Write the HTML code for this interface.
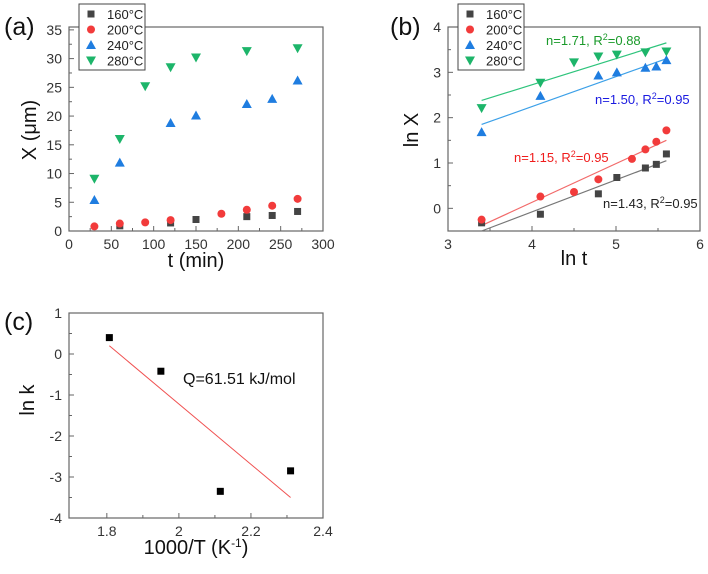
<!DOCTYPE html>
<html><head><meta charset="utf-8"><style>
body{margin:0;background:#fff;width:708px;height:569px;overflow:hidden}
svg{font-family:"Liberation Sans",Arial,sans-serif}
</style></head><body>
<svg id="fig" width="708" height="569" viewBox="0 0 708 569"></svg>
<script>
// ---- Panel (a) data ----
const aT160=[60,120,150,210,240,270], aX160=[0.9,1.4,2.0,2.5,2.7,3.4];
const aT200=[30,60,90,120,180,210,240,270], aX200=[0.8,1.3,1.5,1.9,3.0,3.7,4.4,5.6];
const aT240=[30,60,120,150,210,240,270], aX240=[5.4,11.9,18.8,20.1,22.1,23.0,26.2];
const aT280=[30,60,90,120,150,210,270], aX280=[9.1,16.0,25.2,28.5,30.2,31.3,31.8];
const aXTicks=[0,50,100,150,200,250,300], aYTicks=[0,5,10,15,20,25,30,35];
// ---- Panel (b) data ----
const bT160=[3.4,4.1,4.79,5.01,5.35,5.48,5.6], bX160=[-0.32,-0.13,0.32,0.68,0.89,0.97,1.2];
const bT200=[3.4,4.1,4.5,4.79,5.19,5.35,5.48,5.6], bX200=[-0.25,0.26,0.36,0.64,1.09,1.3,1.47,1.72];
const bT240=[3.4,4.1,4.79,5.01,5.35,5.48,5.6], bX240=[1.68,2.48,2.93,3.0,3.1,3.13,3.27];
const bT280=[3.4,4.1,4.5,4.79,5.01,5.35,5.6], bX280=[2.21,2.77,3.22,3.35,3.39,3.44,3.46];
const bFitX=[3.4,5.6];
const bFit160=[-0.5,1.05], bFit200=[-0.38,1.5], bFit240=[1.85,3.3], bFit280=[2.38,3.65];
const bXTicks=[3,4,5,6], bYTicks=[0,1,2,3,4];
// ---- Panel (c) data ----
const cX=[1.807,1.95,2.115,2.31], cY=[0.4,-0.42,-3.35,-2.85];
const cFitX=[1.807,2.31], cFitY=[0.2,-3.5];
const cXTicks=[1.8,2.0,2.2,2.4], cXLabels=["1.8","2","2.2","2.4"], cYTicks=[1,0,-1,-2,-3,-4];

const NS="http://www.w3.org/2000/svg", svg=document.getElementById('fig');
function el(tag,at,parent,txt){const e=document.createElementNS(NS,tag);for(const k in at)e.setAttribute(k,at[k]);if(txt!==undefined)e.textContent=txt;(parent||svg).appendChild(e);return e;}
function axes(L,R,T,B,x0,x1,y0,y1){return{x:v=>L+(v-x0)/(x1-x0)*(R-L),y:v=>B-(v-y0)/(y1-y0)*(B-T)};}
function frame(g,L,R,T,B,sx,sy,xt,xl,yt,yl){
  el('rect',{x:L,y:T,width:R-L,height:B-T,fill:'none',stroke:'#666','stroke-width':1.2},g);
  xt.forEach((v,i)=>{const x=sx(v);el('line',{x1:x,x2:x,y1:B,y2:B-5,stroke:'#666'},g);
    const t=el('text',{x:x,y:B+18,'font-size':14,fill:'#333','text-anchor':'middle'},g,xl[i]);
    
    if(i<xt.length-1){const m=sx((v+xt[i+1])/2);el('line',{x1:m,x2:m,y1:B,y2:B-3,stroke:'#666'},g);}});
  yt.forEach((v,i)=>{const y=sy(v);el('line',{x1:L,x2:L+5,y1:y,y2:y,stroke:'#666'},g);
    const t=el('text',{x:L-7,y:y+5,'font-size':14,fill:'#333','text-anchor':'end'},g,yl[i]);
    
    if(i<yt.length-1){const m=sy((v+yt[i+1])/2);el('line',{x1:L,x2:L+3,y1:m,y2:m,stroke:'#666'},g);}});
}
function marker(g,kind,x,y,c){let m;
  if(kind==='sq')m=el('rect',{x:x-3.5,y:y-3.5,width:7,height:7,fill:c},g);
  else if(kind==='ci')m=el('circle',{cx:x,cy:y,r:4,fill:c},g);
  else if(kind==='up')m=el('polygon',{points:`${x},${y-5} ${x-5},${y+4} ${x+5},${y+4}`,fill:c},g);
  else m=el('polygon',{points:`${x},${y+5} ${x-5},${y-4} ${x+5},${y-4}`,fill:c},g);
  return m;}
const series=[['sq','#444','160°C'],['ci','#f23b3b','200°C'],['up','#1f7de0','240°C'],['dn','#1db56a','280°C']];
function legend(g,x,y){el('rect',{x:x,y:y,width:66,height:66,fill:'#fff',stroke:'#444'},g);
  series.forEach((s,i)=>{const yy=y+10+i*15.5;marker(g,s[0],x+12,yy,s[1]);
    const t=el('text',{x:x+28,y:yy+5,'font-size':13,fill:'#222'},g,s[2]);
    });}

// Panel a
const ga=el('g',{});
const A=axes(69,323,27,231,0,300,0,35.5);
frame(ga,69,323,27,231,A.x,A.y,aXTicks,aXTicks.map(String),aYTicks,aYTicks.map(String));
[[aT160,aX160],[aT200,aX200],[aT240,aX240],[aT280,aX280]].forEach((d,si)=>d[0].forEach((t,i)=>{
  const m=marker(ga,series[si][0],A.x(t),A.y(d[1][i]),series[si][1]);
  }));
legend(ga,79,4);
el('text',{x:4,y:35,'font-size':25,fill:'#111'},ga,'(a)');
el('text',{x:196,y:267,'font-size':20,fill:'#111','text-anchor':'middle'},ga,'t (min)');
el('text',{x:0,y:0,'font-size':20,fill:'#111','text-anchor':'middle',transform:'translate(36,130) rotate(-90)'},ga,'X (μm)');

// Panel b
const gb=el('g',{});
const B=axes(448,700,27,231,3,6,-0.5,4.0);
frame(gb,448,700,27,231,B.x,B.y,bXTicks,bXTicks.map(String),bYTicks,bYTicks.map(String));
[[bFit160,'#777'],[bFit200,'#f26a6a'],[bFit240,'#3ca0e8'],[bFit280,'#2ec47c']].forEach(f=>{
  const l=el('line',{x1:B.x(bFitX[0]),y1:B.y(f[0][0]),x2:B.x(bFitX[1]),y2:B.y(f[0][1]),stroke:f[1],'stroke-width':1.2},gb);
  });
[[bT160,bX160],[bT200,bX200],[bT240,bX240],[bT280,bX280]].forEach((d,si)=>d[0].forEach((t,i)=>{
  const m=marker(gb,series[si][0],B.x(t),B.y(d[1][i]),series[si][1]);
  }));
legend(gb,458,4);
function ann(g,x,y,c,n,r){const t=el('text',{x:x,y:y,'font-size':13,fill:c},g);
  
  t.appendChild(document.createTextNode('n='+n+', R'));
  el('tspan',{dy:-5,'font-size':9},t,'2');el('tspan',{dy:5},t,'='+r);}
ann(gb,546,45,'#1a9a2a','1.71','0.88');
ann(gb,595,104,'#1a1ae0','1.50','0.95');
ann(gb,514,162,'#f01c1c','1.15','0.95');
ann(gb,603,208,'#222','1.43','0.95');
el('text',{x:390,y:35,'font-size':25,fill:'#111'},gb,'(b)');
el('text',{x:574,y:265,'font-size':20,fill:'#111','text-anchor':'middle'},gb,'ln t');
el('text',{x:0,y:0,'font-size':20,fill:'#111','text-anchor':'middle',transform:'translate(418,130) rotate(-90)'},gb,'ln X');

// Panel c
const gc=el('g',{});
const C=axes(69,323,313,518,1.695,2.4,-4,1);
frame(gc,69,323,313,518,C.x,C.y,cXTicks,cXLabels,cYTicks,cYTicks.map(String));
const cl=el('line',{x1:C.x(cFitX[0]),y1:C.y(cFitY[0]),x2:C.x(cFitX[1]),y2:C.y(cFitY[1]),stroke:'#f05050','stroke-width':1},gc);

cX.forEach((x,i)=>{const m=el('rect',{x:C.x(x)-3.5,y:C.y(cY[i])-3.5,width:7,height:7,fill:'#000'},gc);
  });
el('text',{x:183,y:384,'font-size':16,fill:'#111'},gc,'Q=61.51 kJ/mol');
el('text',{x:4,y:330,'font-size':25,fill:'#111'},gc,'(c)');
const xl=el('text',{x:196,y:554,'font-size':20,fill:'#111','text-anchor':'middle'},gc,'1000/T (K');
el('tspan',{dy:-7,'font-size':12},xl,'-1');el('tspan',{dy:7},xl,')');
el('text',{x:0,y:0,'font-size':20,fill:'#111','text-anchor':'middle',transform:'translate(34,400) rotate(-90)'},gc,'ln k');
</script>
</body></html>
